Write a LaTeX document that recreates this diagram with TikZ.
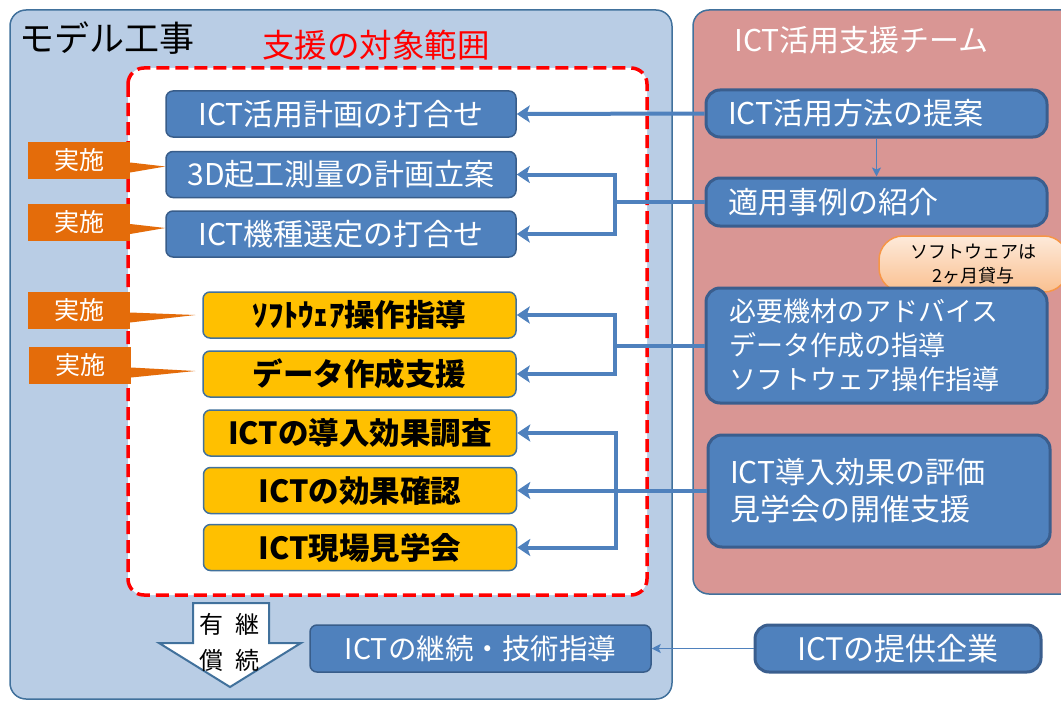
\documentclass[tikz,border=0pt]{standalone}
\usepackage{fontspec}
\setmainfont{Noto Sans CJK JP}
\usetikzlibrary{arrows.meta,calc}
\definecolor{panelblue}{HTML}{B9CDE5}
\definecolor{panelborder}{HTML}{41719C}
\definecolor{panelred}{HTML}{D99694}
\definecolor{boxblue}{HTML}{4F81BD}
\definecolor{boxborder}{HTML}{385D8A}
\definecolor{teamborder}{HTML}{3A5E8E}
\definecolor{ybfill}{HTML}{FFC000}
\definecolor{ybborder}{HTML}{41719C}
\definecolor{calloutorange}{HTML}{E46C0A}
\definecolor{connblue}{HTML}{4F81BD}
\definecolor{redline}{HTML}{FF0000}
\definecolor{peachtop}{HTML}{FDEADA}
\definecolor{peachbot}{HTML}{FAC090}
\definecolor{peachborder}{HTML}{F79646}
\tikzset{
 bluebox/.style={draw=boxborder, fill=boxblue, line width=1.5pt, rounded corners=7pt, text=white,
   minimum width=350pt, minimum height=46pt, inner sep=0pt, font=\fontsize{30}{36}\selectfont},
 yellowbox/.style={draw=ybborder, fill=ybfill, line width=1.5pt, rounded corners=7pt,
   minimum width=313pt, minimum height=46pt, inner sep=0pt, font=\fontsize{30.5}{36}\selectfont\bfseries},
 teambox/.style={draw=teamborder, fill=boxblue, line width=3pt, rounded corners=14pt, text=white,
   inner ysep=0pt, align=left},
 conn/.style={draw=connblue, line width=4pt, -{Stealth[length=13pt,width=17pt,inset=3pt]}},
 connline/.style={draw=connblue, line width=4pt},
 thinarrow/.style={draw=connblue, line width=1.5pt, -{Stealth[length=9pt,width=9pt,inset=2pt]}},
 jisshi/.style={fill=calloutorange, text=white, minimum width=102pt, minimum height=37pt,
   inner sep=0pt, font=\fontsize{25}{30}\selectfont},
 pointer/.style={fill=calloutorange},
}
\begin{document}
\begin{tikzpicture}[x=1pt,y=-1pt]
\useasboundingbox (0,0) rectangle (1061,701);
\clip (0,0) rectangle (1061,701);
% panels
\draw[fill=panelblue, draw=panelborder, line width=1.5pt, rounded corners=16pt] (10,10) rectangle (672,699);
\draw[fill=panelred, draw=panelborder, line width=1.5pt, rounded corners=16pt] (693,10) rectangle (1080,594);
\node[anchor=west, font=\fontsize{35}{38}\selectfont] (t1) at (16,38) {モデル工事};
\node[anchor=west, text=white, font=\fontsize{30}{34}\selectfont] (t2) at (731,40) {ICT活用支援チーム};
\node[text=redline, font=\fontsize{32.5}{36}\selectfont] (t3) at (376,45) {支援の対象範囲};
% dashed scope
\draw[fill=white, draw=redline, line width=3.5pt, dash pattern=on 13pt off 6pt, rounded corners=16pt] (128,68) rectangle (647,595);
% left boxes
\node[bluebox] (b1) at (341,114) {ICT活用計画の打合せ};
\node[bluebox] (b2) at (341,174.5) {3D起工測量の計画立案};
\node[bluebox] (b3) at (341,234) {ICT機種選定の打合せ};
\node[yellowbox] (y1) at (359.5,315) {ｿﾌﾄｳｪｱ操作指導};
\node[yellowbox] (y2) at (359.5,374) {データ作成支援};
\node[yellowbox] (y3) at (360,433) {ICTの導入効果調査};
\node[yellowbox] (y4) at (360,490.5) {ICTの効果確認};
\node[yellowbox] (y5) at (360,547.5) {ICT現場見学会};
% right boxes
\node[teambox, minimum height=47pt, text width=297pt, inner xsep=22pt, font=\fontsize{30}{36}\selectfont] (rA) at (876.5,113.5) {ICT活用方法の提案};
\node[teambox, minimum height=48pt, text width=297pt, inner xsep=22pt, font=\fontsize{30}{36}\selectfont] (rB) at (876.5,202) {適用事例の紹介};
\node[draw=peachborder, line width=1.5pt, top color=peachtop, bottom color=peachbot, rounded corners=24pt,
  minimum width=189pt, minimum height=56pt, inner sep=0pt, align=center,
  font=\fontsize{18}{24}\selectfont] (cl) at (973.5,264) {ソフトウェアは\\2ヶ月貸与};
\node[teambox, minimum height=115pt, text width=295pt, inner xsep=23pt, font=\fontsize{27}{34}\selectfont] (rD) at (876.5,345.5) {必要機材のアドバイス\\データ作成の指導\\ソフトウェア操作指導};
\node[teambox, minimum height=112pt, text width=298pt, inner xsep=22pt, font=\fontsize{30}{37}\selectfont] (rE) at (879,491) {ICT導入効果の評価\\見学会の開催支援};
% connectors
\draw[conn] (rA.west) -- (b1.east);
\draw[thinarrow] (rA.south) -- (rB.north);
\coordinate (j1) at (615,202);
\draw[connline] (rB.west) -- (j1);
\draw[conn] (j1) |- (b2.east);
\draw[conn] (j1) |- (b3.east);
\coordinate (j2) at (615,345.5);
\draw[connline] (rD.west) -- (j2);
\draw[conn] (j2) |- (y1.east);
\draw[conn] (j2) |- (y2.east);
\coordinate (j3) at (616,491);
\draw[connline] (rE.west) -- (j3);
\draw[conn] (j3) |- (y3.east);
\draw[conn] (j3) |- (y4.east);
\draw[conn] (j3) |- (y5.east);
% callouts
\node[jisshi] (c1) at (79,160.5) {実施};
\fill[pointer] ([yshift=-2pt]c1.east) -- ([yshift=8pt]b2.west) -- ([yshift=-12pt]c1.east) -- cycle;
\node[jisshi] (c2) at (79,222) {実施};
\fill[pointer] ([yshift=-2pt]c2.east) -- ([yshift=6pt]b3.west) -- ([yshift=-12pt]c2.east) -- cycle;
\node[jisshi] (c3) at (79,310.5) {実施};
\fill[pointer] ([yshift=-2pt]c3.east) -- ([xshift=-7pt]y1.west) -- ([yshift=-12pt]c3.east) -- cycle;
\node[jisshi] (c4) at (80,365.5) {実施};
\fill[pointer] ([yshift=-2pt]c4.east) -- ([xshift=-7pt,yshift=3pt]y2.west) -- ([yshift=-12pt]c4.east) -- cycle;
% bottom
\draw[fill=white, draw=panelborder, line width=2pt, line join=miter]
  (193,603) -- (269,603) -- (269,643) -- (301,643) -- (230,687) -- (159,643) -- (193,643) -- cycle;
\node[align=center, inner sep=0pt, font=\fontsize{24}{36}\selectfont] (ar) at (229,642) {有\hspace{12pt}継\\償\hspace{12pt}続};
\node[bluebox, minimum width=341pt, minimum height=47pt, font=\fontsize{28.5}{34}\selectfont] (k) at (480.5,648.5) {ICTの継続・技術指導};
\node[teambox, minimum width=286pt, minimum height=47pt, inner xsep=0pt, align=center, font=\fontsize{31}{36}\selectfont] (p) at (898,648.5) {ICTの提供企業};
\draw[thinarrow] (p.west) -- (k.east);
\end{tikzpicture}
\end{document}
